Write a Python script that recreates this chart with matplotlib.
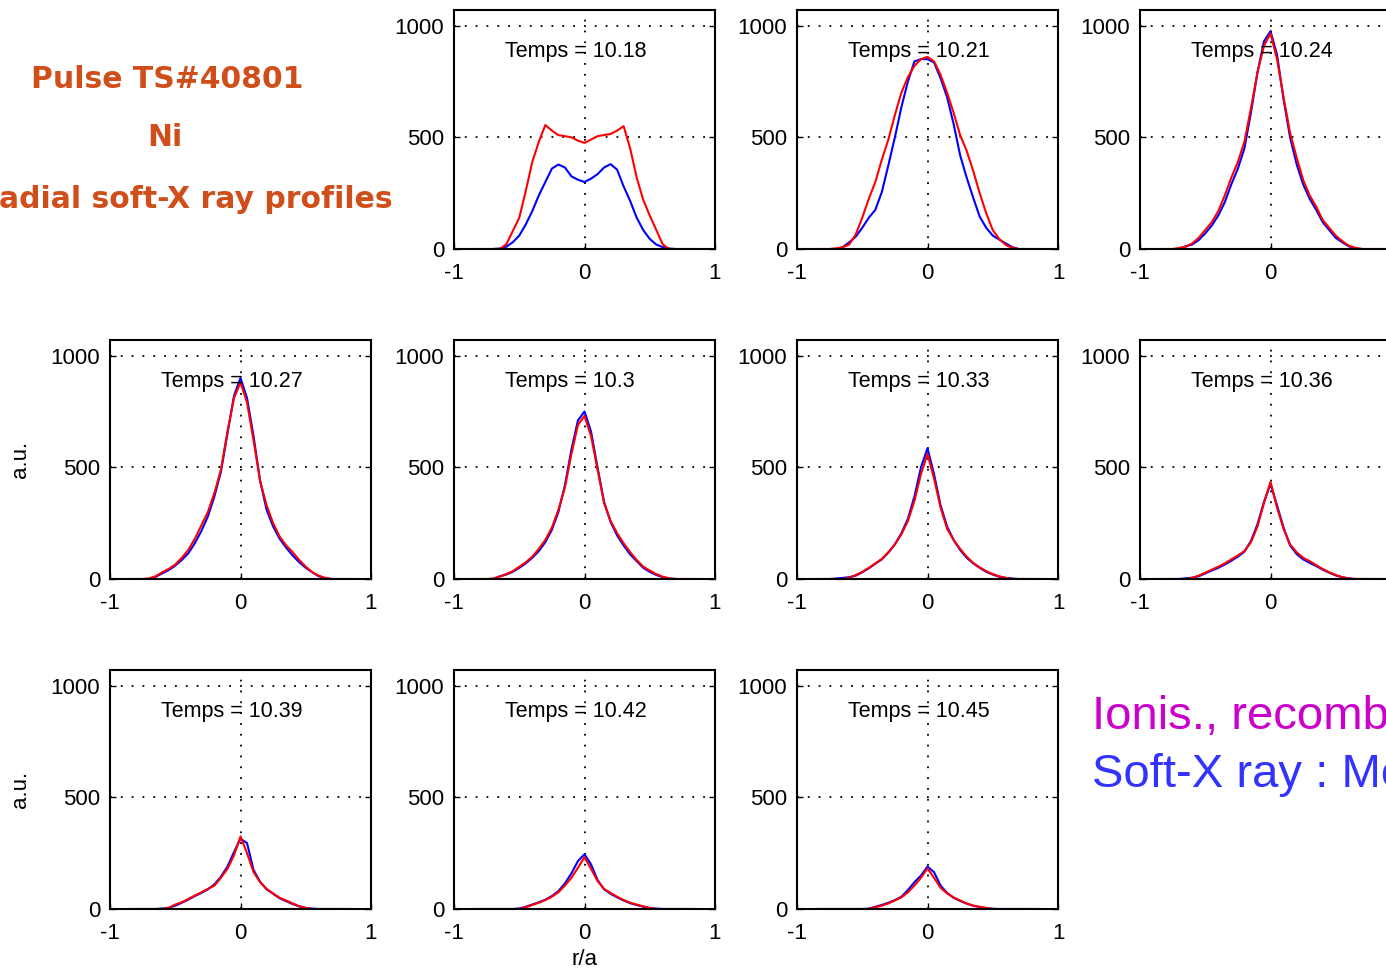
import numpy as np
import matplotlib.pyplot as plt

# radial grid (r/a)
r = np.round(np.arange(-0.85, 0.851, 0.05), 2)
nan = np.nan

times = ["10.18", "10.21", "10.24", "10.27", "10.3", "10.33", "10.36", "10.39", "10.42", "10.45"]

red_1018 = [0, 0, 0, 0, 0, 20, 80, 140, 260, 390, 480, 555, 530, 510, 505, 500, 485, 475,
            490, 505, 510, 515, 530, 550, 450, 320, 220, 150, 85, 20, 0, 0, 0, 0, 0]
blue_1018 = [nan, nan, nan, 0, 2, 10, 30, 60, 110, 170, 240, 300, 360, 378, 365, 325, 310, 300,
             315, 335, 365, 380, 355, 280, 215, 140, 85, 45, 20, 8, 2, 0, nan, nan, nan]

red_1021 = [0, 0, 0, 3, 8, 20, 65, 140, 225, 300, 400, 490, 600, 700, 770, 820, 850, 860,
            840, 780, 700, 610, 510, 440, 350, 250, 160, 85, 45, 18, 5, 0, 0, 0, 0]
blue_1021 = [nan, nan, nan, 0, 8, 30, 55, 95, 140, 175, 255, 375, 500, 635, 750, 840, 850, 850,
             835, 765, 680, 560, 420, 320, 230, 145, 95, 60, 42, 25, 8, 0, nan, nan, nan]

red_1024 = [0, 0, 0, 5, 10, 25, 50, 85, 120, 170, 240, 320, 390, 480, 630, 790, 910, 965,
            850, 680, 520, 410, 310, 240, 190, 130, 95, 60, 35, 15, 5, 0, 0, 0, 0]
blue_1024 = [nan, nan, nan, 0, 12, 20, 40, 70, 105, 150, 210, 290, 360, 450, 610, 790, 930, 975,
             870, 670, 500, 380, 290, 225, 175, 120, 85, 50, 30, 12, 3, 0, nan, nan, nan]

red_1027 = [0, 0, 0, 3, 12, 30, 45, 65, 95, 130, 180, 240, 300, 385, 490, 660, 810, 880,
            790, 620, 440, 330, 250, 190, 150, 120, 85, 55, 30, 15, 5, 0, 0, 0, 0]
blue_1027 = [nan, nan, nan, 0, 10, 25, 40, 60, 85, 115, 160, 215, 280, 370, 480, 650, 820, 900,
             810, 640, 440, 310, 235, 180, 140, 105, 75, 50, 30, 12, 3, 0, nan, nan, nan]

red_1030 = [0, 0, 0, 2, 10, 22, 35, 55, 75, 100, 135, 175, 230, 310, 410, 560, 690, 730,
            640, 490, 340, 260, 205, 160, 120, 85, 55, 38, 22, 10, 3, 0, 0, 0, 0]
blue_1030 = [nan, nan, nan, 0, 12, 20, 32, 50, 70, 95, 125, 165, 220, 300, 420, 580, 710, 750,
             660, 500, 345, 255, 195, 150, 110, 80, 50, 32, 18, 8, 2, 0, nan, nan, nan]

red_1033 = [0, 0, 0, 0, 0, 5, 18, 32, 50, 70, 90, 120, 155, 200, 260, 350, 470, 560,
            450, 320, 225, 175, 135, 100, 72, 52, 35, 22, 12, 5, 0, 0, 0, 0, 0]
blue_1033 = [nan, nan, 0, 2, 5, 8, 15, 30, 48, 68, 88, 118, 155, 205, 270, 370, 500, 585,
             470, 330, 235, 175, 130, 95, 70, 50, 32, 20, 10, 5, 2, 0, 0, nan, nan]

red_1036 = [0, 0, 0, 0, 0, 5, 15, 28, 42, 55, 70, 88, 105, 125, 165, 235, 340, 435,
            320, 225, 155, 120, 95, 80, 62, 45, 30, 18, 8, 2, 0, 0, 0, 0, 0]
blue_1036 = [nan, nan, 0, 0, 3, 6, 12, 25, 38, 50, 65, 82, 100, 122, 170, 245, 345, 425,
             330, 230, 150, 112, 88, 72, 58, 42, 28, 16, 8, 3, 0, 0, 0, nan, nan]

red_1039 = [0, 0, 0, 0, 0, 0, 5, 20, 30, 45, 60, 75, 90, 105, 140, 180, 240, 325,
            250, 165, 120, 90, 70, 50, 38, 25, 12, 5, 0, 0, 0, 0, 0, 0, 0]
blue_1039 = [nan, 0, 0, 0, 0, 2, 5, 15, 28, 42, 58, 72, 88, 110, 145, 190, 255, 315,
             295, 175, 122, 88, 68, 48, 35, 22, 12, 5, 2, 0, 0, 0, 0, nan, nan]

red_1042 = [0, 0, 0, 0, 0, 0, 0, 0, 8, 18, 28, 40, 55, 75, 105, 140, 185, 232,
            180, 125, 90, 72, 55, 40, 28, 20, 12, 5, 0, 0, 0, 0, 0, 0, 0]
blue_1042 = [nan, 0, 0, 0, 0, 0, 0, 2, 10, 20, 30, 42, 58, 80, 115, 160, 215, 245,
             200, 130, 88, 68, 52, 38, 26, 18, 10, 4, 2, 0, 0, 0, 0, nan, nan]

red_1045 = [0, 0, 0, 0, 0, 0, 0, 0, 0, 8, 15, 25, 38, 52, 75, 105, 140, 182,
            140, 95, 70, 52, 38, 25, 15, 10, 5, 0, 0, 0, 0, 0, 0, 0, 0]
blue_1045 = [nan, 0, 0, 0, 0, 0, 0, 0, 2, 10, 18, 28, 40, 55, 85, 120, 150, 190,
             165, 105, 72, 50, 36, 24, 15, 8, 4, 1, 0, 0, 0, 0, 0, nan, nan]

red = [red_1018, red_1021, red_1024, red_1027, red_1030, red_1033, red_1036, red_1039, red_1042, red_1045]
blue = [blue_1018, blue_1021, blue_1024, blue_1027, blue_1030, blue_1033, blue_1036, blue_1039, blue_1042, blue_1045]

# (row, col) slot of each panel
slots = [(0, 1), (0, 2), (0, 3), (1, 0), (1, 1), (1, 2), (1, 3), (2, 0), (2, 1), (2, 2)]

W, H = 1386, 973
fig = plt.figure(figsize=(W / 100, H / 100), dpi=100)
plt.rcParams['font.family'] = ['Liberation Sans', 'DejaVu Sans']

col_left = [110, 454, 797, 1140]
row_bottom = [249, 579, 909]
aw, ah = 261, 239

for k, (row, col) in enumerate(slots):
    ax = fig.add_axes([col_left[col] / W, 1 - row_bottom[row] / H, aw / W, ah / H])
    ax.plot(r, blue[k], color='#0000ff', lw=1.5)
    ax.plot(r, red[k], color='#ff0000', lw=1.5)
    ax.set_xlim(-1, 1)
    ax.set_ylim(0, 1070)
    ax.set_xticks([-1, 0, 1])
    ax.set_yticks([0, 500, 1000])
    ax.set_xticklabels(['-1', '0', '1'])
    ax.grid(True, color='black', linestyle=(0, (1, 5)), lw=1.3)
    ax.tick_params(direction='in', length=4, width=1, labelsize=16, colors='black',
                   top=False, right=True)
    ax.tick_params(axis='x', pad=10)
    ax.tick_params(axis='y', pad=7)
    for s in ax.spines.values():
        s.set_linewidth(1.5)
    ax.text(-0.61, 885, 'Temps = ' + times[k], fontsize=15.5, va='center', ha='left')
    if col == 0:
        ax.set_ylabel('a.u.', fontsize=16, labelpad=14)
    if row == 2 and col == 1:
        ax.set_xlabel('r/a', fontsize=16, labelpad=4)

title_col = '#d04e1a'
fig.text(167 / W, 1 - 79 / H, 'Pulse TS#40801', color=title_col, fontsize=21.5,
         fontweight='bold', ha='center', va='center', family='DejaVu Sans')
fig.text(165 / W, 1 - 138 / H, 'Ni', color=title_col, fontsize=21.5,
         fontweight='bold', ha='center', va='center', family='DejaVu Sans')
fig.text(393 / W, 1 - 200 / H, 'Radial soft-X ray profiles', color=title_col, fontsize=21.5,
         fontweight='bold', ha='right', va='center', family='DejaVu Sans')

fig.text(1092 / W, 1 - 717 / H, 'Ionis., recombination', color='#cc00cc', fontsize=34,
         ha='left', va='center')
fig.text(1092 / W, 1 - 775 / H, 'Soft-X ray : Model', color='#3333ff', fontsize=34,
         ha='left', va='center')

fig.savefig('out.png', dpi=100)
